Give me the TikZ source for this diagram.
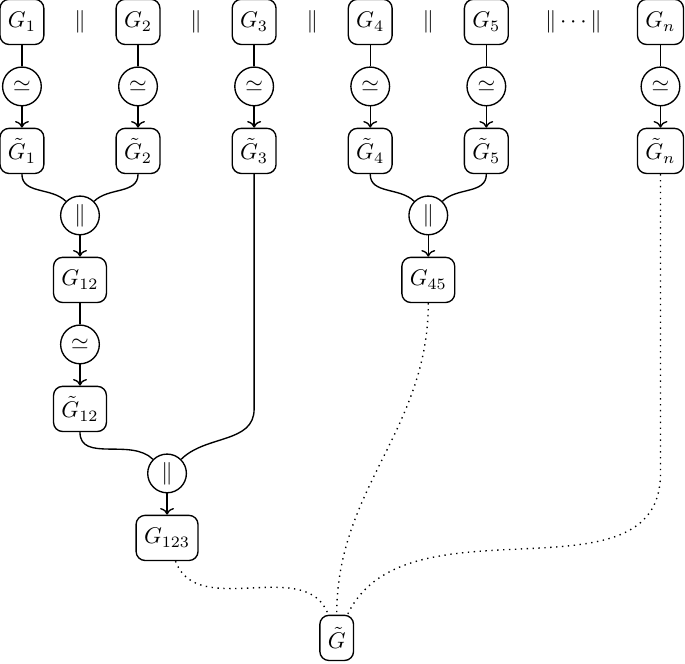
\documentclass[tikz,border=0pt]{standalone}
\usepackage{amsmath,amssymb}
\usepackage{tikz}
\usetikzlibrary{positioning,calc,arrows.meta}

\begin{document}
\begin{tikzpicture}[
                gbox/.style={draw,rounded corners=4pt,minimum height=0.7cm,inner sep=3.5pt,semithick},
                op/.style={draw,circle,minimum size=0.6cm,inner sep=1pt,semithick},
                link/.style={semithick},
                dots/.style={semithick,dotted}
            ]
                \useasboundingbox (-0.34,0.34) rectangle (10.28,-9.95);
                \node[gbox] (G1) at (0,0) {$G_1$};
                \node (s1) at (0.9,0) {$\|$};
                \node[gbox] (G2) at (1.8,0) {$G_2$};
                \node (s2) at (2.7,0) {$\|$};
                \node[gbox] (G3) at (3.6,0) {$G_3$};
                \node (s3) at (4.5,0) {$\|$};
                \node[gbox] (G4) at (5.4,0) {$G_4$};
                \node (s4) at (6.3,0) {$\|$};
                \node[gbox] (G5) at (7.2,0) {$G_5$};
                \node (s5) at (8.55,0) {$\|\cdots\|$};
                \node[gbox] (Gn) at (9.9,0) {$G_n$};

                \node[op] (eq1) at (0,-1) {$\simeq$};
                \node[op] (eq2) at (1.8,-1) {$\simeq$};
                \node[op] (eq3) at (3.6,-1) {$\simeq$};
                \node[op] (eq4) at (5.4,-1) {$\simeq$};
                \node[op] (eq5) at (7.2,-1) {$\simeq$};
                \node[op] (eqn) at (9.9,-1) {$\simeq$};

                \node[gbox] (Gt1) at (0,-2) {$\tilde{G}_1$};
                \node[gbox] (Gt2) at (1.8,-2) {$\tilde{G}_2$};
                \node[gbox] (Gt3) at (3.6,-2) {$\tilde{G}_3$};
                \node[gbox] (Gt4) at (5.4,-2) {$\tilde{G}_4$};
                \node[gbox] (Gt5) at (7.2,-2) {$\tilde{G}_5$};
                \node[gbox] (Gtn) at (9.9,-2) {$\tilde{G}_n$};

                \node[op] (par12) at (0.9,-3) {$\|$};
                \node[op] (par45) at (6.3,-3) {$\|$};
                \node[gbox] (G12) at (0.9,-4) {$G_{12}$};
                \node[gbox] (G45) at (6.3,-4) {$G_{45}$};
                \node[op] (eq12) at (0.9,-5) {$\simeq$};
                \node[gbox] (Gt12) at (0.9,-6) {$\tilde{G}_{12}$};
                \node[op] (par123) at (2.25,-7) {$\|$};
                \node[gbox] (G123) at (2.25,-8) {$G_{123}$};
                \node[gbox] (Gt) at (4.88,-9.55) {$\tilde{G}$};

                \draw[link] (G1) -- (eq1);
                \draw[link] (G2) -- (eq2);
                \draw[link] (G3) -- (eq3);
                \draw[link] (G4) -- (eq4);
                \draw[link] (G5) -- (eq5);
                \draw[link] (Gn) -- (eqn);
                \draw[link,->] (eq1) -- (Gt1);
                \draw[link,->] (eq2) -- (Gt2);
                \draw[link,->] (eq3) -- (Gt3);
                \draw[link,->] (eq4) -- (Gt4);
                \draw[link,->] (eq5) -- (Gt5);
                \draw[link,->] (eqn) -- (Gtn);

                \draw[link] (Gt1.south) to[out=-90,in=135] (par12);
                \draw[link] (Gt2.south) to[out=-90,in=45] (par12);
                \draw[link] (Gt4.south) to[out=-90,in=135] (par45);
                \draw[link] (Gt5.south) to[out=-90,in=45] (par45);
                \draw[link,->] (par12) -- (G12);
                \draw[link,->] (par45) -- (G45);
                \draw[link] (G12) -- (eq12);
                \draw[link,->] (eq12) -- (Gt12);
                \draw[link] (Gt12.south) to[out=-90,in=135] (par123);
                \draw[link] (Gt3) -- (Gt3 |- Gt12) to[out=-90,in=45] (par123);
                \draw[link,->] (par123) -- (G123);

                \draw[dots] (G123) to[out=-70,in=110] (Gt);
                \draw[dots] (G45) to[out=-90,in=90] (Gt);
                \draw[dots] (Gtn) -- (Gtn |- par123) to[out=-90,in=65] (Gt);
            \end{tikzpicture}
\end{document}
